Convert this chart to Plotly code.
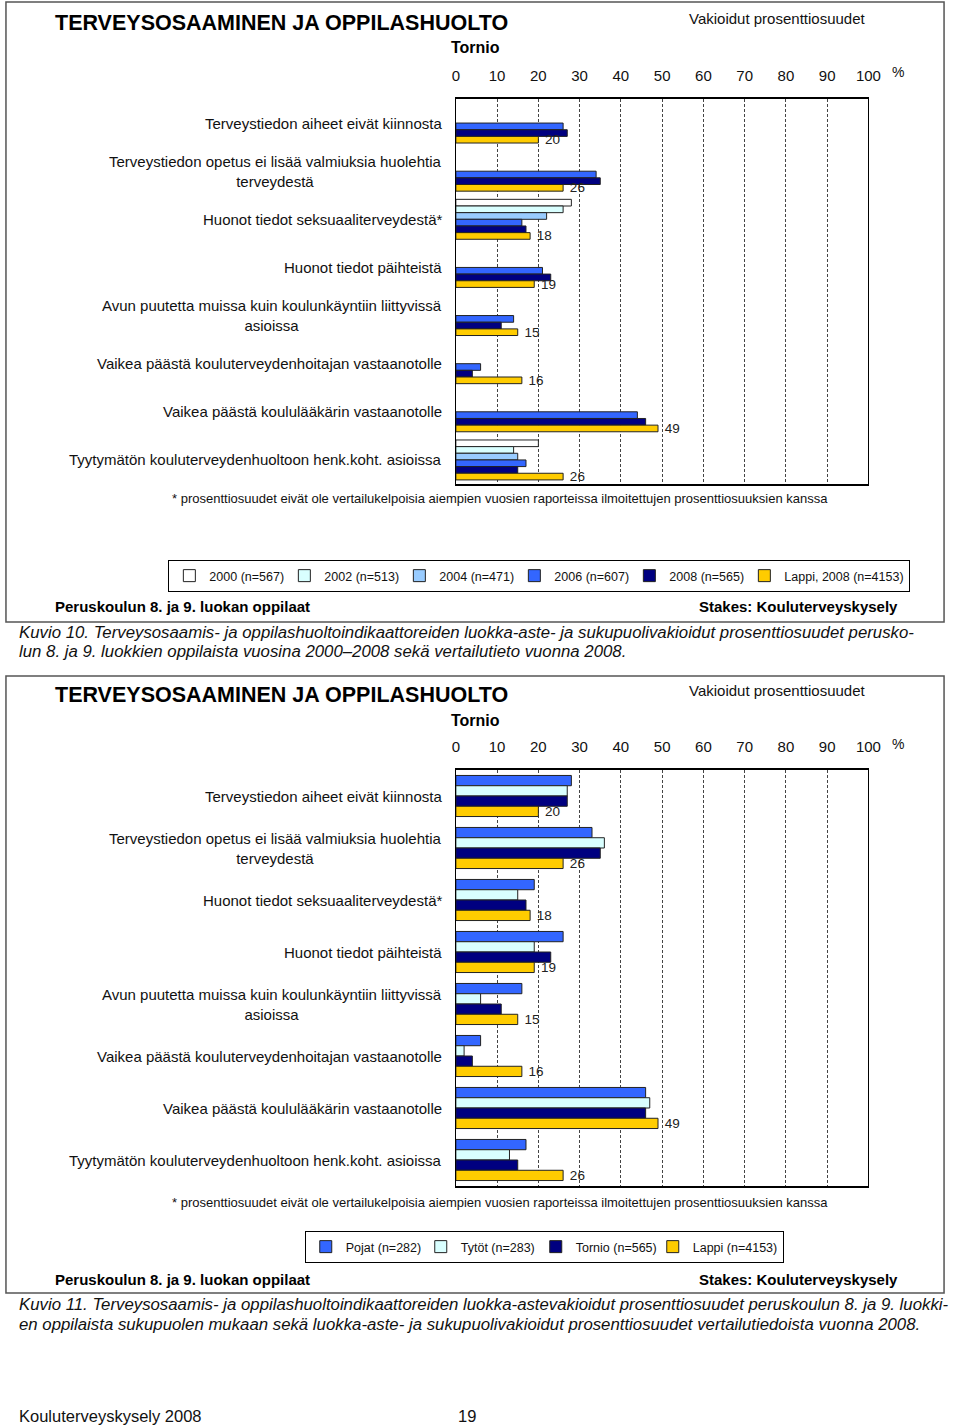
import plotly.graph_objects as go

W, H = 960, 1427

categories = [
    "Terveystiedon aiheet eivät kiinnosta",
    "Terveystiedon opetus ei lisää valmiuksia huolehtia<br>terveydestä",
    "Huonot tiedot seksuaaliterveydestä*",
    "Huonot tiedot päihteistä",
    "Avun puutetta muissa kuin koulunkäyntiin liittyvissä<br>asioissa",
    "Vaikea päästä kouluterveydenhoitajan vastaanotolle",
    "Vaikea päästä koululääkärin vastaanotolle",
    "Tyytymätön kouluterveydenhuoltoon henk.koht. asioissa",
]

# Chart 1 (Kuvio 10): years
y2000 = [None, None, 28, None, None, None, None, 20]
y2002 = [None, None, 26, None, None, None, None, 14]
y2004 = [None, None, 22, None, None, None, None, 15]
y2006 = [26, 34, 16, 21, 14, 6, 44, 17]
y2008 = [27, 35, 17, 23, 11, 4, 46, 15]
lappi2008 = [20, 26, 18, 19, 15, 16, 49, 26]

names1 = ["2000 (n=567)", "2002 (n=513)", "2004 (n=471)", "2006 (n=607)",
          "2008 (n=565)", "Lappi, 2008 (n=4153)"]

# Chart 2 (Kuvio 11): gender
pojat = [28, 33, 19, 26, 16, 6, 46, 17]
tytot = [27, 36, 15, 19, 6, 2, 47, 13]
tornio = [27, 35, 17, 23, 11, 4, 46, 15]
lappi = [20, 26, 18, 19, 15, 16, 49, 26]

names2 = ["Pojat (n=282)", "Tytöt (n=283)", "Tornio (n=565)", "Lappi (n=4153)"]

xticks = list(range(0, 101, 10))

C2000 = "#FFFFFF"
C2002 = "#D9FFFF"
C2004 = "#99CCFF"
C2006 = "#3366FF"
C2008 = "#000080"
CLAP = "#FFCC00"

FONT = "Liberation Sans, Arial, sans-serif"


def px(x):
    return x / W


def py(y):
    return 1 - y / H


fig = go.Figure()

series1 = [y2000, y2002, y2004, y2006, y2008, lappi2008]
colors1 = [C2000, C2002, C2004, C2006, C2008, CLAP]
lw1 = [70, 70, 70, 70, 70, 0]
slot1 = 0.83 / len(series1)
for i, (vals, nm, col) in enumerate(zip(series1, names1, colors1)):
    is_lappi = i == len(series1) - 1
    fig.add_trace(go.Bar(
        x=vals, y=categories, orientation="h", name=nm,
        marker=dict(color=col, line=dict(color="#222222", width=1)),
        width=slot1, offset=-0.415 + i * slot1,
        xaxis="x", yaxis="y", legend="legend",
        legendwidth=lw1[i] if lw1[i] else None,
        text=vals if is_lappi else None,
        texttemplate="\u00a0%{x}" if is_lappi else None,
        textposition="outside" if is_lappi else None,
        constraintext="none",
        textfont=dict(size=13.5, color="#222222", family=FONT),
        cliponaxis=False,
    ))

series2 = [pojat, tytot, tornio, lappi]
colors2 = [C2006, C2002, C2008, CLAP]
lw2 = [70, 70, 72, 0]
slot2 = 0.79 / len(series2)
for i, (vals, nm, col) in enumerate(zip(series2, names2, colors2)):
    is_lappi = i == len(series2) - 1
    fig.add_trace(go.Bar(
        x=vals, y=categories, orientation="h", name=nm,
        marker=dict(color=col, line=dict(color="#222222", width=1)),
        width=slot2, offset=-0.395 + i * slot2,
        xaxis="x2", yaxis="y2", legend="legend2",
        legendwidth=lw2[i] if lw2[i] else None,
        text=vals if is_lappi else None,
        texttemplate="\u00a0%{x}" if is_lappi else None,
        textposition="outside" if is_lappi else None,
        constraintext="none",
        textfont=dict(size=13.5, color="#222222", family=FONT),
        cliponaxis=False,
    ))

xaxis_common = dict(
    range=[0, 100], tickvals=xticks, side="top",
    showgrid=True, gridcolor="#444444", griddash="3px,2px", gridwidth=1,
    showline=True, linecolor="#000000", linewidth=1.5, mirror=True,
    zeroline=False, ticks="", ticklabelstandoff=10,
    tickfont=dict(size=15, color="#111111", family=FONT),
)
yaxis_common = dict(
    type="category", autorange="reversed", categoryorder="array",
    categoryarray=categories, showticklabels=False, showgrid=False,
    showline=True, linecolor="#000000", linewidth=1, mirror=True, ticks="",
    zeroline=False,
)

legend_common = dict(
    orientation="h", xanchor="center", yanchor="middle",
    bgcolor="white", bordercolor="#000000", borderwidth=1,
    font=dict(size=12.5, family=FONT, color="#111111"), itemwidth=30,
    traceorder="normal",
)

fig.update_layout(
    width=W, height=H, margin=dict(l=0, r=0, t=0, b=0),
    paper_bgcolor="white", plot_bgcolor="white",
    barmode="overlay", showlegend=True,
    font=dict(family=FONT, color="#111111"),
    xaxis=dict(domain=[px(460), px(880)], anchor="y", **xaxis_common),
    yaxis=dict(domain=[py(484), py(99)], anchor="x", **yaxis_common),
    xaxis2=dict(domain=[px(460), px(880)], anchor="y2", **xaxis_common),
    yaxis2=dict(domain=[py(1186), py(770)], anchor="x2", **yaxis_common),
    legend=dict(x=px(545), y=py(576), **legend_common),
    legend2=dict(x=px(550), y=py(1247), **legend_common),
)

ann = []
shapes = []
panels = [
    dict(off=0, yref="y", foot=498, top=2, bottom=622),
    dict(off=672, yref="y2", foot=1202, top=676, bottom=1293),
]
for p in panels:
    off, yref = p["off"], p["yref"]
    ann.append(dict(text="<b>TERVEYSOSAAMINEN JA OPPILASHUOLTO</b>", x=px(50), y=py(23 + off),
                    xanchor="left", yanchor="middle", font=dict(size=21.5, family=FONT, color="#000")))
    ann.append(dict(text="<b>Tornio</b>", x=px(453), y=py(48 + off), xanchor="left", yanchor="middle",
                    font=dict(size=16, family=FONT, color="#000")))
    ann.append(dict(text="Vakioidut prosenttiosuudet", x=px(695), y=py(18 + off), xanchor="left",
                    yanchor="middle", font=dict(size=15, family=FONT, color="#111")))
    ann.append(dict(text="%", x=px(902), y=py(72 + off), xanchor="left", yanchor="middle",
                    font=dict(size=14, family=FONT, color="#111")))
    ann.append(dict(text="* prosenttiosuudet eivät ole vertailukelpoisia aiempien vuosien raporteissa "
                         "ilmoitettujen prosenttiosuuksien kanssa",
                    x=px(505), y=py(p["foot"]), xanchor="center", yanchor="middle",
                    font=dict(size=13, family=FONT, color="#111")))
    ann.append(dict(text="<b>Peruskoulun 8. ja 9. luokan oppilaat</b>", x=px(50), y=py(607 + off),
                    xanchor="left", yanchor="middle", font=dict(size=15, family=FONT, color="#000")))
    ann.append(dict(text="<b>Stakes: Kouluterveyskysely</b>", x=px(912), y=py(607 + off),
                    xanchor="right", yanchor="middle", font=dict(size=15, family=FONT, color="#000")))
    for c in categories:
        ann.append(dict(text=c, x=px(448), xref="paper", y=c, yref=yref, xanchor="right",
                        yanchor="middle", align="center",
                        font=dict(size=15, family=FONT, color="#111")))
    shapes.append(dict(type="rect", xref="paper", yref="paper", x0=px(2), x1=px(957),
                       y0=py(p["top"]), y1=py(p["bottom"]),
                       line=dict(color="#555555", width=1.5), fillcolor="rgba(0,0,0,0)", layer="below"))

caption_font = dict(size=16.8, family=FONT, color="#111")
ann.append(dict(text="<i>Kuvio 10. Terveysosaamis- ja oppilashuoltoindikaattoreiden luokka-aste- ja "
                     "sukupuolivakioidut prosenttiosuudet perusko-</i>",
                x=px(13), y=py(632), xanchor="left", yanchor="middle", font=caption_font))
ann.append(dict(text="<i>lun 8. ja 9. luokkien oppilaista vuosina 2000–2008 sekä vertailutieto vuonna 2008.</i>",
                x=px(13), y=py(652), xanchor="left", yanchor="middle", font=caption_font))
ann.append(dict(text="<i>Kuvio 11. Terveysosaamis- ja oppilashuoltoindikaattoreiden luokka-astevakioidut "
                     "prosenttiosuudet peruskoulun 8. ja 9. luokki-</i>",
                x=px(13), y=py(1304), xanchor="left", yanchor="middle", font=caption_font))
ann.append(dict(text="<i>en oppilaista sukupuolen mukaan sekä luokka-aste- ja sukupuolivakioidut "
                     "prosenttiosuudet vertailutiedoista vuonna 2008.</i>",
                x=px(13), y=py(1324), xanchor="left", yanchor="middle", font=caption_font))
ann.append(dict(text="Kouluterveyskysely 2008", x=px(13), y=py(1416), xanchor="left", yanchor="middle",
                font=dict(size=16.5, family=FONT, color="#111")))
ann.append(dict(text="19", x=px(471), y=py(1416), xanchor="center", yanchor="middle",
                font=dict(size=16.5, family=FONT, color="#111")))

for a in ann:
    a.setdefault("xref", "paper")
    a.setdefault("yref", "paper")
    a["showarrow"] = False

fig.update_layout(annotations=ann, shapes=shapes)

post = (
    "document.body.style.margin='0';document.body.style.padding='0';"
    "document.documentElement.style.overflow='hidden';document.body.style.overflow='hidden';"
)

fig.write_html("out.html", config={"displayModeBar": False}, post_script=post)
